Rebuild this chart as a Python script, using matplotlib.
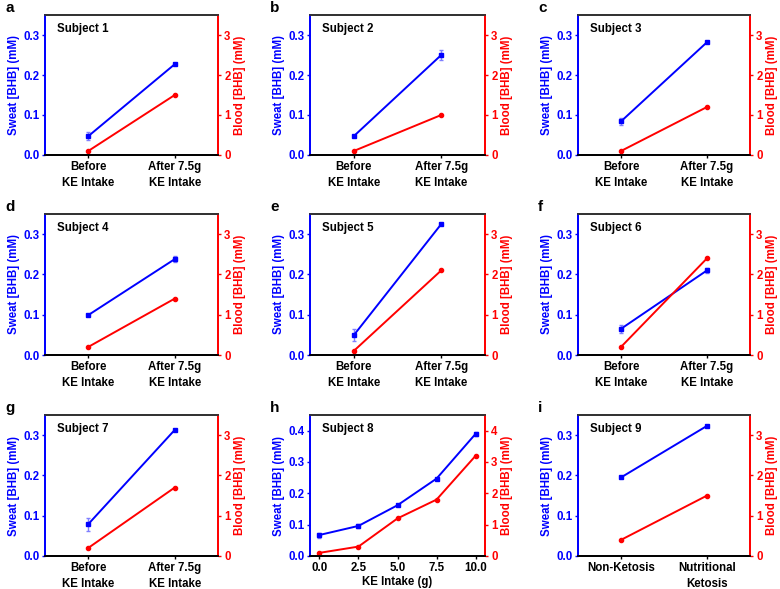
import matplotlib
matplotlib.use("Agg")
import matplotlib.pyplot as plt
import numpy as np

plt.rcParams['font.family'] = ['Liberation Sans', 'DejaVu Sans']
plt.rcParams['font.weight'] = 'bold'
plt.rcParams['axes.labelweight'] = 'bold'

# ---- data ----
panel_letters = ['a', 'b', 'c', 'd', 'e', 'f', 'g', 'h', 'i']
subjects = ['Subject 1', 'Subject 2', 'Subject 3', 'Subject 4', 'Subject 5',
            'Subject 6', 'Subject 7', 'Subject 8', 'Subject 9']
ke_labels = ['Before\nKE Intake', 'After 7.5g\nKE Intake']
ketosis_labels = ['Non-Ketosis', 'Nutritional\nKetosis']
ke_dose = [0.0, 2.5, 5.0, 7.5, 10.0]

sweat_1 = [0.047, 0.227]; sweat_err_1 = [0.010, 0.003]; blood_1 = [0.1, 1.5]
sweat_2 = [0.047, 0.250]; sweat_err_2 = [0.002, 0.012]; blood_2 = [0.1, 1.0]
sweat_3 = [0.084, 0.282]; sweat_err_3 = [0.008, 0.002]; blood_3 = [0.1, 1.2]
sweat_4 = [0.099, 0.238]; sweat_err_4 = [0.003, 0.008]; blood_4 = [0.2, 1.4]
sweat_5 = [0.049, 0.325]; sweat_err_5 = [0.015, 0.002]; blood_5 = [0.1, 2.1]
sweat_6 = [0.065, 0.210]; sweat_err_6 = [0.010, 0.006]; blood_6 = [0.2, 2.4]
sweat_7 = [0.079, 0.313]; sweat_err_7 = [0.016, 0.003]; blood_7 = [0.2, 1.7]
sweat_8 = [0.067, 0.096, 0.162, 0.247, 0.390]
sweat_err_8 = [0.008, 0.006, 0.004, 0.003, 0.006]
blood_8 = [0.1, 0.3, 1.2, 1.8, 3.2]
sweat_9 = [0.195, 0.323]; sweat_err_9 = [0.002, 0.002]; blood_9 = [0.4, 1.5]

sweats = [sweat_1, sweat_2, sweat_3, sweat_4, sweat_5, sweat_6, sweat_7, sweat_8, sweat_9]
errs = [sweat_err_1, sweat_err_2, sweat_err_3, sweat_err_4, sweat_err_5,
        sweat_err_6, sweat_err_7, sweat_err_8, sweat_err_9]
bloods = [blood_1, blood_2, blood_3, blood_4, blood_5, blood_6, blood_7, blood_8, blood_9]

BLUE = '#0000ff'
RED = '#ff0000'
ERR = '#7f7fff'

W, H = 780, 589
fig = plt.figure(figsize=(W / 100, H / 100), dpi=100)

col_left = [45, 310, 578]
col_w = [173, 175, 172]
row_top = [15, 214, 415]
row_h = [140, 141, 141]

FS = 8.3

for k in range(9):
    r, c = divmod(k, 3)
    l, t, w, h = col_left[c], row_top[r], col_w[c], row_h[r]
    ax = fig.add_axes([l / W, 1 - (t + h) / H, w / W, h / H])
    ax2 = ax.twinx()

    if k == 7:
        x = ke_dose
        ymax_s, ymax_b = 0.45, 4.5
    else:
        x = [0, 1]
        ymax_s, ymax_b = 0.35, 3.5

    ax.errorbar(x, sweats[k], yerr=errs[k], color=BLUE, ecolor=ERR,
                elinewidth=1.0, capsize=1.5, capthick=1.0,
                marker='s', markersize=2.8, linewidth=1.4, zorder=3)
    ax2.plot(x, bloods[k], color=RED, marker='o', markersize=3.0, linewidth=1.4)

    ax.set_ylim(0, ymax_s)
    ax2.set_ylim(0, ymax_b)
    if k == 7:
        ax.set_xlim(-0.6, 10.6)
        ax.set_xticks(ke_dose)
        ax.set_xticklabels(['%.1f' % v for v in ke_dose])
        ax.set_xlabel('KE Intake (g)', fontsize=FS, fontweight='bold', labelpad=1)
        ax.set_yticks([0.0, 0.1, 0.2, 0.3, 0.4])
        ax2.set_yticks([0, 1, 2, 3, 4])
    else:
        ax.set_xlim(-0.5, 1.5)
        ax.set_xticks([0, 1])
        ax.set_xticklabels(ketosis_labels if k == 8 else ke_labels,
                           linespacing=1.45)
        ax.set_yticks([0.0, 0.1, 0.2, 0.3])
        ax2.set_yticks([0, 1, 2, 3])
    ax.set_yticklabels(['%.1f' % v for v in ax.get_yticks()])

    ax.set_ylabel('Sweat [BHB] (mM)', color=BLUE, fontsize=FS, fontweight='bold', labelpad=2)
    ax2.set_ylabel('Blood [BHB] (mM)', color=RED, fontsize=FS, fontweight='bold', labelpad=2.5)

    ax.tick_params(axis='y', direction='out', length=2, width=1, colors=BLUE,
                   labelsize=FS, pad=2)
    ax.tick_params(axis='x', direction='out', length=2.5, width=1, colors='black',
                   labelsize=FS, pad=2)
    ax2.tick_params(axis='y', direction='out', length=2.5, width=1, colors=RED,
                    labelsize=FS, pad=2)

    for a in (ax, ax2):
        a.spines['left'].set_color(BLUE)
        a.spines['right'].set_color(RED)
        a.spines['bottom'].set_color('black')
        a.spines['top'].set_color('#333333')
        for s in a.spines.values():
            s.set_linewidth(1.3)

    ax.text(0.07, 0.9, subjects[k], transform=ax.transAxes, fontsize=FS,
            fontweight='bold', color='black', ha='left', va='center')
    fig.text((l - 40) / W, 1 - (t - 7) / H, panel_letters[k], fontsize=11,
             fontweight='bold', ha='left', va='center')

fig.savefig('out.png', dpi=100)
